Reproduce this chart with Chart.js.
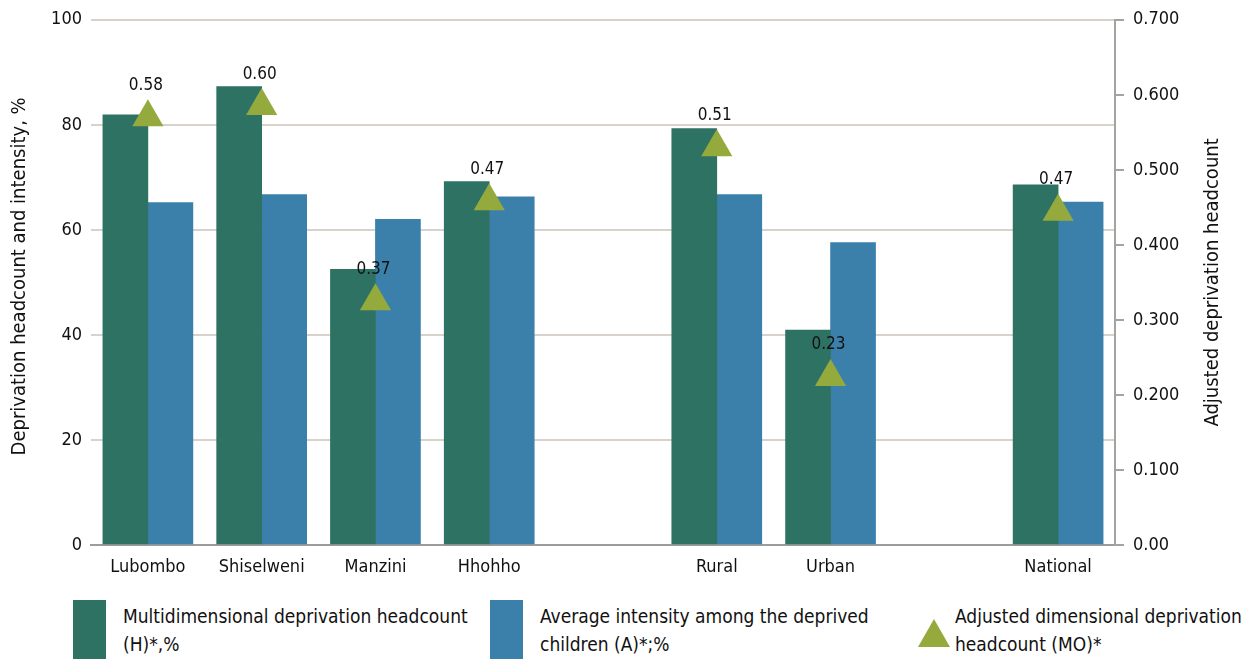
<!DOCTYPE html>
<html>
<head>
<meta charset="utf-8">
<script src="https://cdn.jsdelivr.net/npm/chart.js@4.4.1/dist/chart.umd.min.js"></script>
<style>
  html, body { margin: 0; padding: 0; background: #fff; }
  body {
    width: 1247px; height: 659px; overflow: hidden; position: relative;
    font-family: 'DejaVu Sans Condensed', 'Liberation Sans Narrow', sans-serif;
    color: #111;
  }
  #chart-box { position: absolute; left: 0; top: 0; width: 1247px; height: 590px; }
  #legend { position: absolute; left: 0; top: 600px; width: 1247px; height: 59px; }
  .swatch { position: absolute; top: 0; width: 33px; height: 59px; }
  .tri {
    position: absolute; top: 19px; width: 0; height: 0;
    border-left: 16px solid transparent; border-right: 16px solid transparent;
    border-bottom: 28px solid #94aa3d;
  }
  .label { position: absolute; top: 2px; font-size: 19px; line-height: 28px; white-space: pre; }
</style>
</head>
<body>
<div id="chart-box"><canvas id="chart" width="1247" height="590"></canvas></div>
<div id="legend"></div>

<script>
// categories ('' = empty slot between the groups)
const categories = ['Lubombo', 'Shiselweni', 'Manzini', 'Hhohho', '', 'Rural', 'Urban', '', 'National'];

// H, % (left axis)
const headcount = [81.9, 87.3, 52.5, 69.2, null, 79.3, 40.9, null, 68.6];
// A, % (left axis)
const intensity = [65.2, 66.7, 62.0, 66.3, null, 66.7, 57.6, null, 65.3];
// MO marker positions (right axis) and the printed labels
const adjusted = [0.57, 0.585, 0.325, 0.458, null, 0.53, 0.224, null, 0.444];
const adjustedLabels = ['0.58', '0.60', '0.37', '0.47', null, '0.51', '0.23', null, '0.47'];

const leftTicks = [0, 20, 40, 60, 80, 100];
const rightTicks = [0, 0.1, 0.2, 0.3, 0.4, 0.5, 0.6, 0.7];

const seriesNames = [
    'Multidimensional deprivation headcount\n(H)*,%',
    'Average intensity among the deprived\nchildren (A)*;%',
    'Adjusted dimensional deprivation\nheadcount (MO)*'
];
const leftTitle = 'Deprivation headcount and intensity, %';
const rightTitle = 'Adjusted deprivation headcount';

const FONT = "'DejaVu Sans Condensed', 'Liberation Sans Narrow', sans-serif";
const GREEN = '#2e7263';
const BLUE = '#3b80ab';
const OLIVE = '#94aa3d';
const TRI_R = 18;

// axis titles and the MO value labels
const extras = {
    id: 'extras',
    afterDraw(chart) {
        const { ctx, chartArea } = chart;
        const cy = (chartArea.top + chartArea.bottom) / 2;
        ctx.save();
        ctx.fillStyle = '#111';
        ctx.font = '20px ' + FONT;
        ctx.textAlign = 'center';
        ctx.textBaseline = 'middle';

        ctx.save();
        ctx.translate(20, cy - 6);
        ctx.rotate(-Math.PI / 2);
        ctx.fillText(leftTitle, 0, 0);
        ctx.restore();

        ctx.save();
        ctx.translate(1213, cy);
        ctx.rotate(-Math.PI / 2);
        ctx.fillText(rightTitle, 0, 0);
        ctx.restore();

        ctx.font = '17px ' + FONT;
        const meta = chart.getDatasetMeta(2);
        meta.data.forEach((pt, i) => {
            if (adjustedLabels[i] == null) return;
            ctx.fillText(adjustedLabels[i], pt.x - 2, pt.y - TRI_R - 14);
        });
        ctx.restore();
    }
};

const ctx = document.getElementById('chart').getContext('2d');
const chart = new Chart(ctx, {
    data: {
        labels: categories,
        datasets: [
            {
                type: 'bar',
                label: seriesNames[0],
                data: headcount,
                backgroundColor: GREEN,
                barThickness: 45,
                yAxisID: 'y',
                order: 2
            },
            {
                type: 'bar',
                label: seriesNames[1],
                data: intensity,
                backgroundColor: BLUE,
                barThickness: 45,
                yAxisID: 'y',
                order: 2
            },
            {
                type: 'line',
                label: seriesNames[2],
                data: adjusted,
                showLine: false,
                pointStyle: 'triangle',
                pointRadius: TRI_R,
                pointBackgroundColor: OLIVE,
                pointBorderColor: OLIVE,
                pointBorderWidth: 0,
                yAxisID: 'y1',
                order: 1
            }
        ]
    },
    options: {
        responsive: false,
        animation: false,
        devicePixelRatio: 1,
        layout: { padding: { top: 19, left: 0, right: 0, bottom: 0 } },
        plugins: {
            legend: { display: false },
            tooltip: { enabled: false }
        },
        scales: {
            x: {
                grid: { display: false, drawTicks: false },
                border: { display: true, color: '#9c9c9c', width: 2 },
                ticks: {
                    color: '#111',
                    font: { family: FONT, size: 18 },
                    padding: 12,
                    autoSkip: false,
                    maxRotation: 0
                },
                afterFit(scale) { scale.height = 45; }
            },
            y: {
                position: 'left',
                min: 0,
                max: 100,
                afterBuildTicks(scale) { scale.ticks = leftTicks.map(v => ({ value: v })); },
                grid: { color: '#d8d2cb', lineWidth: 2, drawTicks: false },
                border: { display: false },
                ticks: {
                    color: '#111',
                    font: { family: FONT, size: 18 },
                    padding: 9
                },
                afterFit(scale) { scale.width = 91; }
            },
            y1: {
                position: 'right',
                min: 0,
                max: 0.7,
                afterBuildTicks(scale) { scale.ticks = rightTicks.map(v => ({ value: v })); },
                grid: {
                    drawOnChartArea: false,
                    drawTicks: true,
                    tickLength: 9,
                    color: '#a3a3a3',
                    lineWidth: 2
                },
                border: { display: true, color: '#a3a3a3', width: 2 },
                ticks: {
                    color: '#111',
                    font: { family: FONT, size: 18 },
                    padding: 9,
                    callback: v => (v === 0 ? '0.00' : v.toFixed(3))
                },
                afterFit(scale) { scale.width = 132; }
            }
        }
    },
    plugins: [extras]
});

// legend below the chart
const legendPos = [
    { swatch: 73, text: 123 },
    { swatch: 490, text: 540 },
    { swatch: 918, text: 955 }
];
const legend = document.getElementById('legend');
chart.data.datasets.forEach((ds, i) => {
    const mark = document.createElement('div');
    if (ds.pointStyle === 'triangle') {
        mark.className = 'tri';
    } else {
        mark.className = 'swatch';
        mark.style.background = ds.backgroundColor;
    }
    mark.style.left = legendPos[i].swatch + 'px';
    legend.appendChild(mark);

    const txt = document.createElement('div');
    txt.className = 'label';
    txt.style.left = legendPos[i].text + 'px';
    txt.textContent = ds.label;
    legend.appendChild(txt);
});
</script>
</body>
</html>
